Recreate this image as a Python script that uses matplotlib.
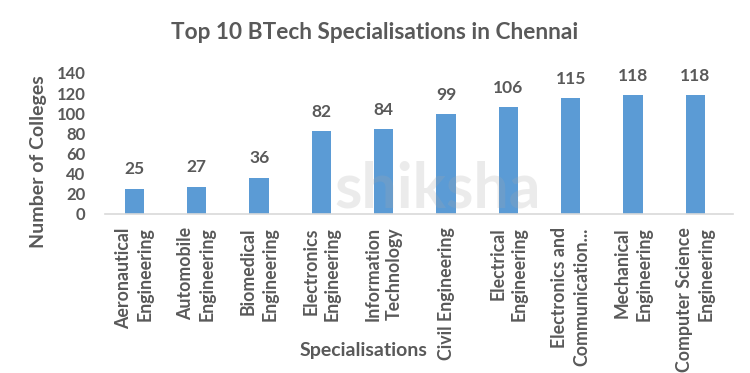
import matplotlib
matplotlib.use("Agg")
import matplotlib.pyplot as plt

categories = ["Aeronautical\nEngineering", "Automobile\nEngineering", "Biomedical\nEngineering",
              "Electronics\nEngineering", "Information\nTechnology", "Civil Engineering",
              "Electrical\nEngineering", "Electronics and\nCommunication...",
              "Mechanical\nEngineering", "Computer Science\nEngineering"]
values = [25, 27, 36, 82, 84, 99, 106, 115, 118, 118]
yticks = [0, 20, 40, 60, 80, 100, 120, 140]

plt.rcParams['font.family'] = ['Lato', 'DejaVu Sans']
grey = '#595959'

fig = plt.figure(figsize=(7.5, 3.73), dpi=100)
ax = fig.add_axes([0.14, 0.4263, 0.837, 0.378])
x = list(range(len(values)))
ax.bar(x, values, width=0.31, color='#5B9BD5', zorder=2)
for xi, v in zip(x, values):
    ax.annotate(str(v), (xi, v), xytext=(0, 10.5), textcoords='offset points',
                ha='center', va='baseline', fontsize=12.5, fontweight='bold', color=grey)

ax.set_xlim(-0.473, 9.6)
ax.set_ylim(0, 140)
ax.set_yticks(yticks)
ax.set_yticklabels([str(t) for t in yticks], fontsize=12, fontweight='bold', color=grey)
ax.set_xticks(x)
ax.set_xticklabels(categories, rotation=90, fontsize=12.8, fontweight='bold', color=grey,
                   ha='center', va='top', multialignment='right', linespacing=1.32)
ax.tick_params(axis='both', length=0)
ax.tick_params(axis='y', pad=14)
ax.tick_params(axis='x', pad=9.5)
for s in ['top', 'right', 'left']:
    ax.spines[s].set_visible(False)
ax.spines['bottom'].set_color('#D9D9D9')
ax.spines['bottom'].set_linewidth(1.2)

fig.text(0.0513, 0.566, "Number of Colleges", rotation=90, ha='center', va='center',
         fontsize=14, fontweight='bold', color=grey)
fig.text(0.485, 0.059, "Specialisations", ha='center', va='center', fontsize=14,
         fontweight='bold', color=grey)
fig.text(0.5, 0.914, "Top 10 BTech Specialisations in Chennai", ha='center', va='center',
         fontsize=16.3, fontweight='bold', color=grey)
fig.text(0.584, 0.445, "shiksha", ha='center', va='baseline', fontsize=45, fontweight='bold',
         color='#A8A8A8', alpha=0.22, zorder=5)

fig.savefig("out.png", dpi=100)
